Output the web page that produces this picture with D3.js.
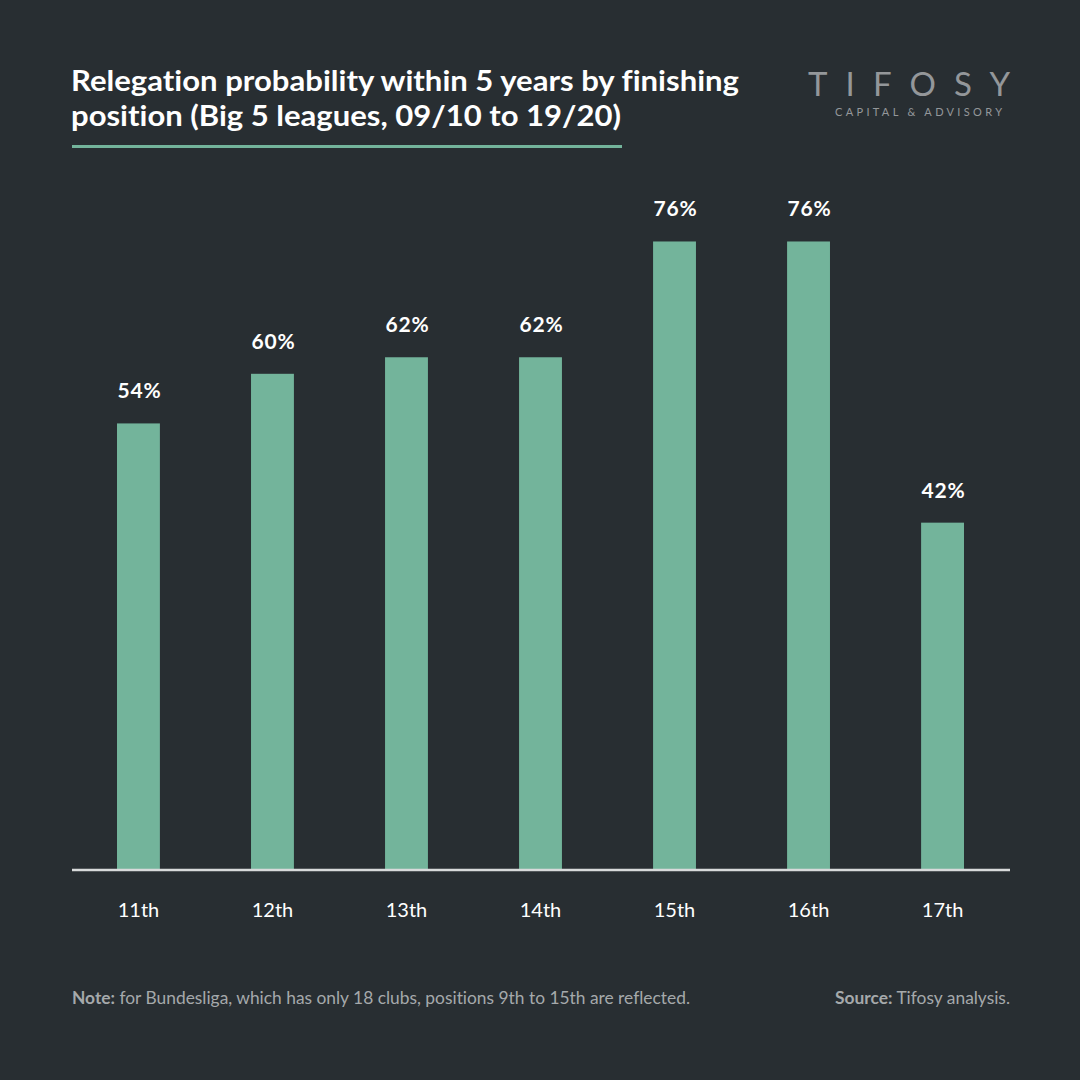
<!DOCTYPE html>
<html>
<head>
<meta charset="utf-8">
<script src="https://cdn.jsdelivr.net/npm/d3@7"></script>
<style>
  html, body { margin: 0; padding: 0; background: #282e32; }
  svg { display: block; }
  text { font-variant-ligatures: none; }
</style>
</head>
<body>
<svg id="chart"></svg>
<script>
const positions = ['11th', '12th', '13th', '14th', '15th', '16th', '17th']
const probabilities = [54, 60, 62, 62, 76, 76, 42]
const titleLines = ['Relegation probability within 5 years by finishing', 'position (Big 5 leagues, 09/10 to 19/20)']
const titleWidths = [668, 550]

const W = 1080
const H = 1080
const BG = '#282e32'
const BAR = '#73b49b'
const FONT = 'Lato, "Open Sans", sans-serif'

const svg = d3.select('#chart').attr('width', W).attr('height', H)
svg.append('rect').attr('width', W).attr('height', H).attr('fill', BG)

const margin = { left: 72, right: 70, top: 43, bottom: 210 }
const baseY = H - margin.bottom

const x = d3.scaleBand()
  .domain(positions)
  .range([50, 1031])
  .paddingInner(0.68)
  .paddingOuter(0.5)

const y = d3.scaleLinear()
  .domain([0, 100])
  .range([baseY, margin.top])

const data = positions.map((p, i) => ({ pos: p, val: probabilities[i] }))

// title
svg.append('g').selectAll('text').data(titleLines).join('text')
  .attr('x', 71)
  .attr('y', (d, i) => 91 + i * 35)
  .attr('fill', '#ffffff')
  .attr('font-family', FONT)
  .attr('font-weight', 700)
  .attr('font-size', 29)
  .attr('textLength', (d, i) => titleWidths[i])
  .attr('lengthAdjust', 'spacingAndGlyphs')
  .text(d => d)

svg.append('rect')
  .attr('x', 72).attr('y', 145)
  .attr('width', 550).attr('height', 3)
  .attr('fill', BAR)

// logo
svg.append('text')
  .attr('x', 808).attr('y', 96)
  .attr('fill', '#94979a')
  .attr('font-family', FONT)
  .attr('font-weight', 400)
  .attr('font-size', 33)
  .attr('textLength', 202)
  .attr('lengthAdjust', 'spacing')
  .text('TIFOSY')

svg.append('text')
  .attr('x', 835).attr('y', 116)
  .attr('fill', '#94979a')
  .attr('font-family', FONT)
  .attr('font-size', 11)
  .attr('textLength', 167)
  .attr('lengthAdjust', 'spacing')
  .text('CAPITAL & ADVISORY')

// bars
const plot = svg.append('g')
plot.selectAll('.bar').data(data).join('rect')
  .attr('class', 'bar')
  .attr('x', d => x(d.pos))
  .attr('y', d => y(d.val))
  .attr('width', x.bandwidth())
  .attr('height', d => baseY - y(d.val))
  .attr('fill', BAR)

plot.selectAll('.label').data(data).join('text')
  .attr('class', 'label')
  .attr('x', d => x(d.pos) + x.bandwidth() / 2 + 1)
  .attr('y', d => y(d.val) - 25)
  .attr('text-anchor', 'middle')
  .attr('fill', '#ffffff')
  .attr('font-family', FONT)
  .attr('font-weight', 700)
  .attr('font-size', 21)
  .attr('letter-spacing', 0.8)
  .text(d => d.val + '%')

// axis
const axis = svg.append('g')
  .attr('transform', `translate(0, ${baseY})`)
  .call(d3.axisBottom(x).tickSize(0).tickPadding(33))

axis.select('.domain').remove()
axis.append('line')
  .attr('x1', 72).attr('x2', 1010)
  .attr('stroke', '#d8dadb')
  .attr('stroke-width', 2.5)

axis.selectAll('.tick text')
  .attr('fill', '#ffffff')
  .attr('font-family', FONT)
  .attr('font-size', 20)

// footer
const note = svg.append('text')
  .attr('x', 72).attr('y', 1004)
  .attr('fill', '#a5a9ab')
  .attr('font-family', FONT)
  .attr('font-size', 16.5)
  .attr('textLength', 618)
  .attr('lengthAdjust', 'spacingAndGlyphs')
note.append('tspan').attr('font-weight', 700).text('Note:')
note.append('tspan').text(' for Bundesliga, which has only 18 clubs, positions 9th to 15th are reflected.')

const src = svg.append('text')
  .attr('x', 835).attr('y', 1004)
  .attr('fill', '#a5a9ab')
  .attr('font-family', FONT)
  .attr('font-size', 16.5)
  .attr('textLength', 175)
  .attr('lengthAdjust', 'spacingAndGlyphs')
src.append('tspan').attr('font-weight', 700).text('Source:')
src.append('tspan').text(' Tifosy analysis.')
</script>
</body>
</html>
